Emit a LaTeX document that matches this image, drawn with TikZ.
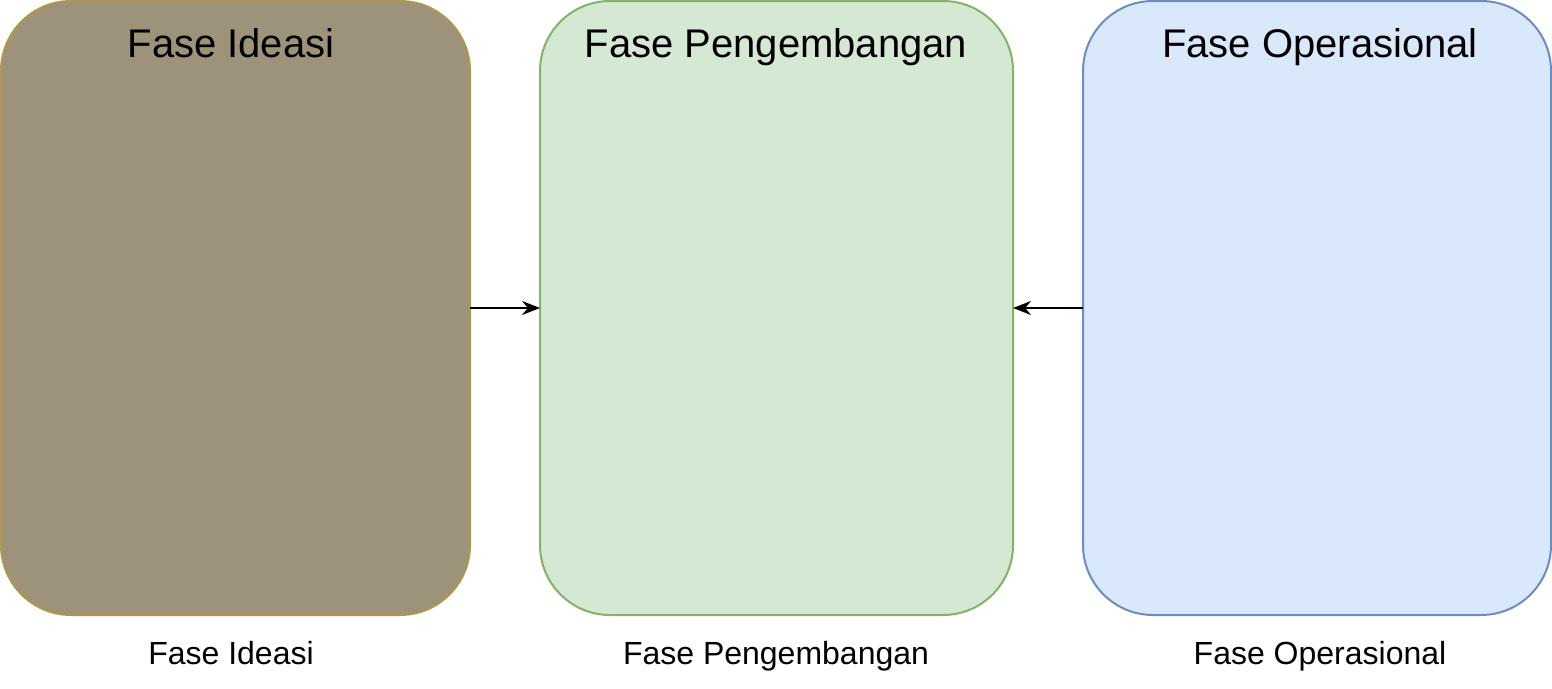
\documentclass[tikz,border=0pt]{standalone}
\usepackage{fontspec}
\setmainfont{Liberation Sans}
\usetikzlibrary{arrows.meta}
\definecolor{f1}{HTML}{9C937A}\definecolor{s1}{HTML}{B0974A}
\definecolor{f2}{HTML}{D5E8D4}\definecolor{s2}{HTML}{82B366}
\definecolor{f3}{HTML}{DAE8FC}\definecolor{s3}{HTML}{6C8EBF}
\begin{document}
\begin{tikzpicture}[x=1pt,y=-1pt,
  box/.style={rounded corners=70pt,line width=2pt},
  title/.style={font=\fontsize{40}{44}\selectfont,anchor=base},
  lab/.style={font=\fontsize{32}{36}\selectfont,anchor=base},
  arr/.style={-{Stealth[length=18pt,width=14pt]},line width=2pt}]
\useasboundingbox[fill=white] (0,0) rectangle (1552,688);
\draw[box,fill=f1,draw=s1] (1,1) rectangle (470,615);
\draw[box,fill=f2,draw=s2] (540,1) rectangle (1013,615);
\draw[box,fill=f3,draw=s3] (1083,1) rectangle (1551,615);
\coordinate (a1) at (470,308); \coordinate (b1) at (540,308);
\coordinate (b2) at (1013,308); \coordinate (c1) at (1083,308);
\node[title] (t1) at (231,57) {Fase Ideasi};
\node[title] (t2) at (776,57) {Fase Pengembangan};
\node[title] (t3) at (1320,57) {Fase Operasional};
\node[lab] (l1) at (231,664) {Fase Ideasi};
\node[lab] (l2) at (776,664) {Fase Pengembangan};
\node[lab] (l3) at (1320,664) {Fase Operasional};
\draw[arr] (a1) -- (b1);
\draw[arr] (c1) -- (b2);
\end{tikzpicture}
\end{document}
